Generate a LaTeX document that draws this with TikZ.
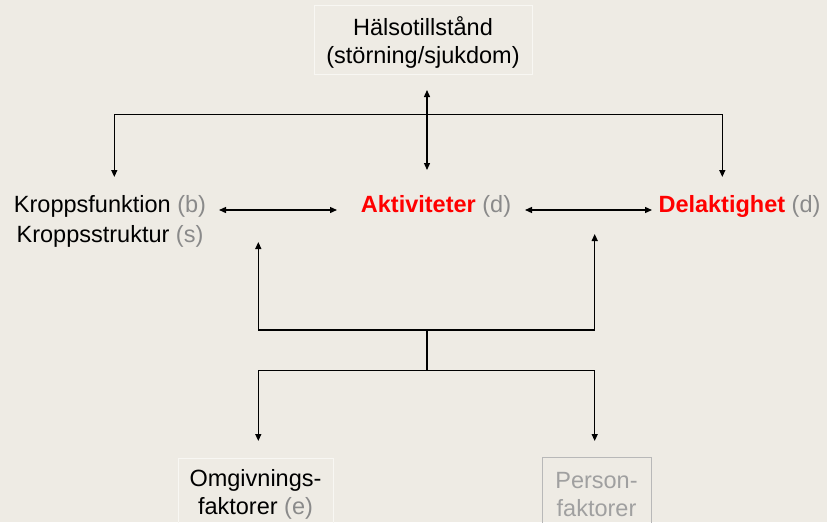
\documentclass[tikz,border=0pt]{standalone}
\usepackage{fontspec}
\setmainfont{Liberation Sans}
\usetikzlibrary{arrows.meta}
\definecolor{bg}{HTML}{EEEBE4}
\definecolor{lightbox}{HTML}{F8F7F3}
\definecolor{greybox}{HTML}{B8B8B8}
\definecolor{dimtext}{HTML}{8A8A8A}
\definecolor{persontext}{HTML}{A0A0A0}
\definecolor{icfred}{HTML}{FF0000}
\tikzset{
  txt/.style={font=\fontsize{23.5}{27.5}\selectfont, inner sep=0pt, align=center},
  conn/.style={line width=1.3pt, draw=black},
  tip/.style={-{Triangle[length=7pt,width=6pt]}},
  dtip/.style={{Triangle[length=7pt,width=6pt]}-{Triangle[length=7pt,width=6pt]}},
  boxframe/.style={draw=#1, line width=1pt, inner sep=0pt}
}
\newcommand{\dimpart}[1]{\textcolor{dimtext}{#1}}
\begin{document}
\begin{tikzpicture}[x=1pt,y=-1pt]
\useasboundingbox[fill=bg] (0,0) rectangle (827,522);
% frames
\node[boxframe=lightbox, minimum width=218pt, minimum height=69pt] (hbox) at (423,39.5) {};
\node[boxframe=lightbox, minimum width=155pt, minimum height=80pt] (obox) at (255.5,498.3) {};
\node[boxframe=greybox, minimum width=109pt, minimum height=80pt] (pbox) at (596.5,497.3) {};
% texts
\node[txt] (health) at (423,42.4) {Hälsotillstånd\\(störning/sjukdom)};
\node[txt, font=\fontsize{23.5}{30}\selectfont] (body) at (110,221.9) {Kroppsfunktion \dimpart{(b)}\\Kroppsstruktur \dimpart{(s)}};
\node[txt] (akt) at (436,206.9) {\textcolor{icfred}{\textbf{Aktiviteter}} \dimpart{(d)}};
\node[txt] (del) at (739.5,206.9) {\textcolor{icfred}{\textbf{Delaktighet}} \dimpart{(d)}};
\node[txt] (omg) at (255.5,494.6) {Omgivnings-\\faktorer \dimpart{(e)}};
\node[txt, text=persontext] (pers) at (596.5,494.6) {Person-\\faktorer};
% coordinates
\coordinate (hT) at (427,90);
\coordinate (hB) at (427,170);
\coordinate (tl) at (114.3,114.3);
\coordinate (tr) at (722.3,114.3);
\coordinate (tlE) at (114.3,177);
\coordinate (trE) at (722.3,177);
\coordinate (ba1) at (219,210);
\coordinate (ba2) at (337,210);
\coordinate (ad1) at (525,210);
\coordinate (ad2) at (652,210);
\coordinate (ul) at (258.3,330);
\coordinate (ur) at (594.7,330);
\coordinate (ulE) at (258.3,242);
\coordinate (urE) at (594.7,234);
\coordinate (mid1) at (427,330);
\coordinate (mid2) at (427,370.3);
\coordinate (ll) at (258.3,370.3);
\coordinate (lr) at (594.7,370.3);
\coordinate (llE) at (258.3,441);
\coordinate (lrE) at (594.7,441);
% connectors
\draw[conn, dtip] (hT) -- (hB);
\draw[conn, tip] (tl) -- (tlE);
\draw[conn, tip] (tr) -- (trE);
\draw[conn] (tl) -- (tr);
\draw[conn, dtip] (ba1) -- (ba2);
\draw[conn, dtip] (ad1) -- (ad2);
\draw[conn, tip] (ul) -- (ulE);
\draw[conn, tip] (ur) -- (urE);
\draw[conn] (ul) -- (ur);
\draw[conn] (mid1) -- (mid2);
\draw[conn] (ll) -- (lr);
\draw[conn, tip] (ll) -- (llE);
\draw[conn, tip] (lr) -- (lrE);
\end{tikzpicture}
\end{document}
